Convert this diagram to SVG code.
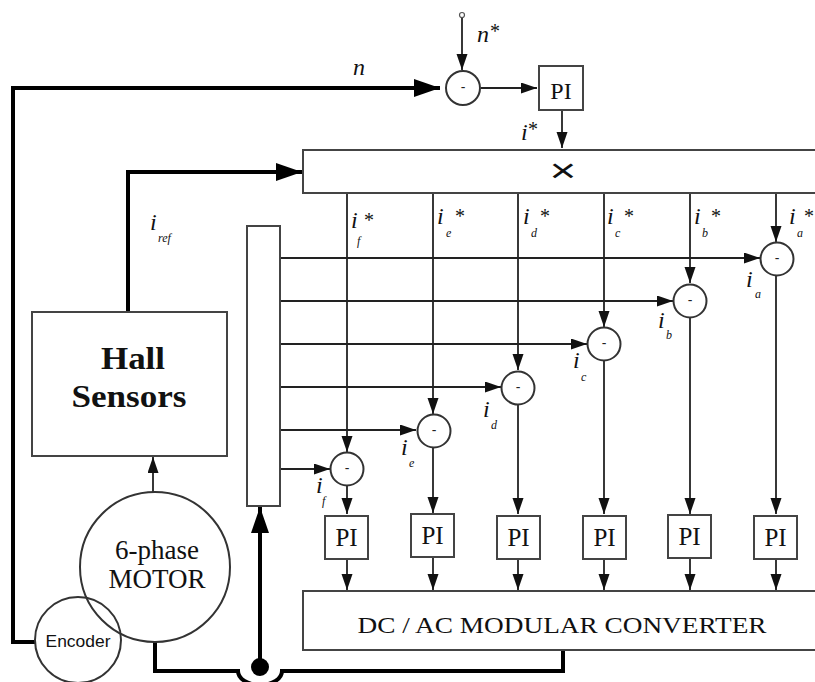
<svg xmlns="http://www.w3.org/2000/svg" width="815" height="682" viewBox="0 0 815 682">
<defs>
<style>
.box{fill:#fff;stroke:#444;stroke-width:2}
.circ{fill:none;stroke:#333;stroke-width:2}
.sum{fill:#fff;stroke:#333;stroke-width:2}
.thin{fill:none;stroke:#222;stroke-width:1.8}
.thick{fill:none;stroke:#000;stroke-width:4}
.minus{font-family:"Liberation Sans",Arial,sans-serif;font-size:14px;text-anchor:middle;fill:#222}
.pi{font-family:"Liberation Serif","Times New Roman",serif;font-size:25px;text-anchor:middle;fill:#111}
.lab{font-family:"Liberation Serif","Times New Roman",serif;font-style:italic;font-size:24px;fill:#111}
.sub{font-family:"Liberation Serif","Times New Roman",serif;font-style:italic;font-size:12px;fill:#111}
.star{font-family:"Liberation Serif","Times New Roman",serif;font-size:20px;fill:#111}
</style>
<marker id="a" markerUnits="userSpaceOnUse" markerWidth="18" markerHeight="12" refX="16" refY="5.5" orient="auto">
<path d="M0,0 L16,5.5 L0,11 z" fill="#111"/>
</marker>
<marker id="A" markerUnits="userSpaceOnUse" markerWidth="28" markerHeight="20" refX="26" refY="9" orient="auto">
<path d="M0,0 L26,9 L0,18 z" fill="#000"/>
</marker>
</defs>
<rect width="815" height="682" fill="#fff"/>

<g id="connectors">
<path class="thick" d="M36,642 H13 V88 H440" marker-end="url(#A)"/>
<circle cx="462" cy="15" r="2.5" fill="#fff" stroke="#555" stroke-width="1.2"/>
<path class="thin" d="M462,18 V70" marker-end="url(#a)"/>
<path class="thin" d="M481,88 H537" marker-end="url(#a)"/>
<path class="thin" d="M562,110 V148" marker-end="url(#a)"/>
<path class="thick" d="M128,312 V172 H302" marker-end="url(#A)"/>
<path class="thin" d="M153,492 V457" marker-end="url(#a)"/>
<path class="thick" d="M260,668 V507" marker-end="url(#A)"/>
<circle cx="260" cy="667" r="9" fill="#000"/>
<path class="thick" d="M155,642 V671 H238 A22,14 0 0 0 282,671 H563 V650"/>
<path class="thin" d="M347,193 V452" marker-end="url(#a)"/>
<path class="thin" d="M433,193 V414" marker-end="url(#a)"/>
<path class="thin" d="M518,193 V370" marker-end="url(#a)"/>
<path class="thin" d="M604,193 V327" marker-end="url(#a)"/>
<path class="thin" d="M690,193 V283" marker-end="url(#a)"/>
<path class="thin" d="M776,193 V242" marker-end="url(#a)"/>
<path class="thin" d="M280,258 H760" marker-end="url(#a)"/>
<path class="thin" d="M280,301 H673" marker-end="url(#a)"/>
<path class="thin" d="M280,344 H587" marker-end="url(#a)"/>
<path class="thin" d="M280,387 H501" marker-end="url(#a)"/>
<path class="thin" d="M280,430 H416" marker-end="url(#a)"/>
<path class="thin" d="M280,469 H330" marker-end="url(#a)"/>
<path class="thin" d="M347,485 V514" marker-end="url(#a)"/>
<path class="thin" d="M433,447 V513" marker-end="url(#a)"/>
<path class="thin" d="M518,404 V514" marker-end="url(#a)"/>
<path class="thin" d="M604,360 V514" marker-end="url(#a)"/>
<path class="thin" d="M690,317 V514" marker-end="url(#a)"/>
<path class="thin" d="M776,276 V514" marker-end="url(#a)"/>
<path class="thin" d="M347,559 V590" marker-end="url(#a)"/>
<path class="thin" d="M433,557 V590" marker-end="url(#a)"/>
<path class="thin" d="M518,559 V590" marker-end="url(#a)"/>
<path class="thin" d="M604,559 V590" marker-end="url(#a)"/>
<path class="thin" d="M690,558 V590" marker-end="url(#a)"/>
<path class="thin" d="M776,559 V590" marker-end="url(#a)"/>
</g>

<g id="sum_n"><circle class="sum" cx="463" cy="88" r="17"/><text class="minus" x="463" y="92">-</text></g>
<g id="pi_speed"><rect class="box" x="539" y="66" width="44" height="44"/><text class="pi" x="561" y="99" style="font-size:24px">PI</text></g>
<g id="multiplier"><rect class="box" x="303" y="150" width="520" height="43"/><text x="563" y="182" text-anchor="middle" transform="translate(563,0) scale(1.35,1) translate(-563,0)" style="font-family:'Liberation Sans',Arial,sans-serif;font-size:34px;fill:#111">×</text></g>
<g id="demux"><rect class="box" x="247" y="226" width="33" height="280"/></g>
<g id="hall"><rect class="box" x="32" y="312" width="195" height="144"/>
<text x="133" y="369" text-anchor="middle" textLength="64" lengthAdjust="spacingAndGlyphs" style="font-family:'Liberation Serif','Times New Roman',serif;font-weight:bold;font-size:32px;fill:#111">Hall</text>
<text x="129" y="407" text-anchor="middle" textLength="115" lengthAdjust="spacingAndGlyphs" style="font-family:'Liberation Serif','Times New Roman',serif;font-weight:bold;font-size:32px;fill:#111">Sensors</text></g>
<g id="motor"><circle class="circ" cx="155" cy="567" r="75"/>
<text x="157" y="559" text-anchor="middle" style="font-family:'Liberation Serif','Times New Roman',serif;font-size:27px;fill:#111">6-phase</text>
<text x="157" y="588" text-anchor="middle" style="font-family:'Liberation Serif','Times New Roman',serif;font-size:27px;fill:#111">MOTOR</text></g>
<g id="encoder"><circle class="circ" cx="78" cy="640" r="43"/>
<text x="78" y="647" text-anchor="middle" textLength="65" lengthAdjust="spacingAndGlyphs" style="font-family:'Liberation Sans',Arial,sans-serif;font-size:17px;fill:#111">Encoder</text></g>
<g id="converter"><rect class="box" x="303" y="591" width="520" height="59"/>
<text x="562" y="633" text-anchor="middle" textLength="409" lengthAdjust="spacingAndGlyphs" style="font-family:'Liberation Serif','Times New Roman',serif;font-size:24px;fill:#111">DC / AC MODULAR CONVERTER</text></g>

<g id="sum_a"><circle class="sum" cx="777" cy="259" r="16.5"/><text class="minus" x="777" y="263">-</text></g>
<g id="sum_b"><circle class="sum" cx="690" cy="301" r="16.5"/><text class="minus" x="690" y="305">-</text></g>
<g id="sum_c"><circle class="sum" cx="604" cy="344" r="16.5"/><text class="minus" x="604" y="348">-</text></g>
<g id="sum_d"><circle class="sum" cx="518" cy="388" r="16.5"/><text class="minus" x="518" y="392">-</text></g>
<g id="sum_e"><circle class="sum" cx="434" cy="431" r="16.5"/><text class="minus" x="434" y="435">-</text></g>
<g id="sum_f"><circle class="sum" cx="347" cy="469" r="16.5"/><text class="minus" x="347" y="473">-</text></g>

<g id="pi_f"><rect class="box" x="325" y="516" width="43" height="43"/><text class="pi" x="346.5" y="546">PI</text></g>
<g id="pi_e"><rect class="box" x="411" y="514" width="43" height="43"/><text class="pi" x="432.5" y="544">PI</text></g>
<g id="pi_d"><rect class="box" x="497" y="516" width="43" height="43"/><text class="pi" x="518.5" y="546">PI</text></g>
<g id="pi_c"><rect class="box" x="583" y="516" width="43" height="43"/><text class="pi" x="604.5" y="546">PI</text></g>
<g id="pi_b"><rect class="box" x="668" y="515" width="43" height="43"/><text class="pi" x="689.5" y="545">PI</text></g>
<g id="pi_a"><rect class="box" x="754" y="516" width="43" height="43"/><text class="pi" x="775.5" y="546">PI</text></g>

<g id="labels">
<text class="lab" x="353" y="75">n</text>
<text class="lab" x="477" y="42">n</text><text class="star" x="490" y="38">*</text>
<text class="lab" x="521" y="140">i</text><text class="star" x="528" y="136">*</text>
<text class="lab" x="150" y="230">i</text><text class="sub" x="158" y="242">ref</text>

<text class="lab" x="351" y="228">i</text><text class="sub" x="357" y="245">f</text><text class="star" x="364" y="227">*</text>
<text class="lab" x="437" y="224">i</text><text class="sub" x="446" y="237">e</text><text class="star" x="455" y="223">*</text>
<text class="lab" x="523" y="224">i</text><text class="sub" x="531" y="237">d</text><text class="star" x="540" y="223">*</text>
<text class="lab" x="607" y="224">i</text><text class="sub" x="615" y="237">c</text><text class="star" x="624" y="223">*</text>
<text class="lab" x="694" y="224">i</text><text class="sub" x="702" y="237">b</text><text class="star" x="711" y="223">*</text>
<text class="lab" x="789" y="224">i</text><text class="sub" x="797" y="237">a</text><text class="star" x="804" y="223">*</text>

<text class="lab" x="746" y="287">i</text><text class="sub" x="755" y="298">a</text>
<text class="lab" x="658" y="328">i</text><text class="sub" x="666" y="339">b</text>
<text class="lab" x="573" y="368">i</text><text class="sub" x="581" y="381">c</text>
<text class="lab" x="483" y="417">i</text><text class="sub" x="491" y="429">d</text>
<text class="lab" x="401" y="455">i</text><text class="sub" x="409" y="467">e</text>
<text class="lab" x="316" y="493">i</text><text class="sub" x="322" y="505">f</text>
</g>
</svg>
